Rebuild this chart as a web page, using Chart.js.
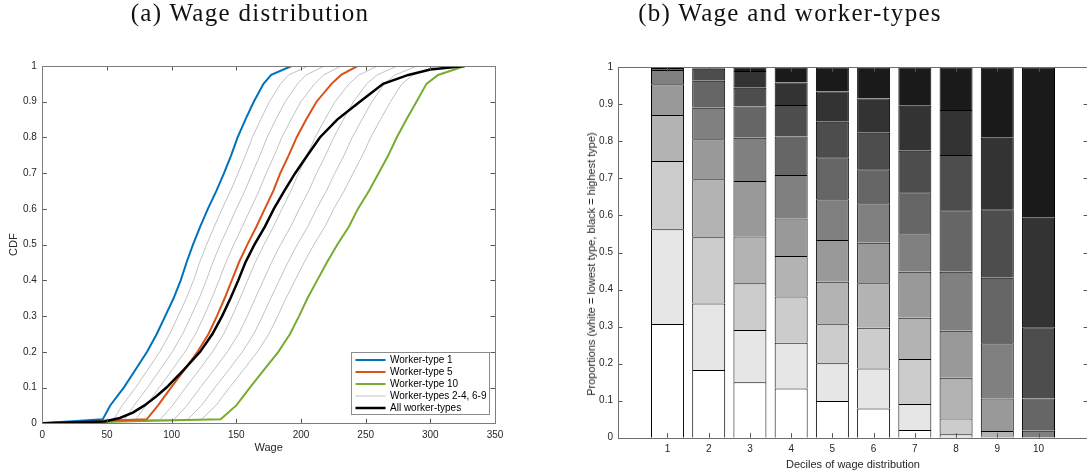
<!DOCTYPE html>
<html>
<head>
<meta charset="utf-8">
<script src="https://cdn.jsdelivr.net/npm/chart.js@4.4.1/dist/chart.umd.min.js"></script>
<style>
  html, body { margin: 0; padding: 0; background: #fff; }
  body { width: 1087px; height: 476px; overflow: hidden; position: relative; font-family: "Liberation Sans", Arial, sans-serif; }
  .title { position: absolute; top: -2px; transform: translateX(-50%); font-family: "Liberation Serif", "Times New Roman", serif; font-size: 25px; letter-spacing: 1.3px; line-height: 30px; color: #111; white-space: nowrap; }
  #cdfWrap { position: absolute; left: 0; top: 0; width: 540px; height: 476px; }
  #barWrap { position: absolute; left: 540px; top: 0; width: 550px; height: 476px; }
  #propLabel { position: absolute; left: 591px; top: 264px; transform: translate(-50%, -50%) rotate(-90deg); font-size: 11px; color: #262626; white-space: nowrap; }
</style>
</head>
<body>
<div id="cdfWrap"><canvas id="cdf" width="540" height="476"></canvas></div>
<div id="barWrap"><canvas id="bars" width="550" height="476"></canvas></div>
<div class="title" style="left:250px">(a) Wage distribution</div>
<div class="title" style="left:790px">(b) Wage and worker-types</div>
<div id="propLabel">Proportions (white = lowest type, black = highest type)</div>
<script>
// ---------------- DATA: panel (a) ----------------
const cdfLevels = [0, 0.011, 0.05, 0.1, 0.15, 0.2, 0.25, 0.3, 0.35, 0.4, 0.45, 0.5, 0.55, 0.6, 0.65, 0.7, 0.75, 0.8, 0.85, 0.9, 0.95, 0.975, 1.0];
const wageType1  = [0, 46.7, 52.5, 63.0, 72.0, 81.0, 88.5, 95.0, 101.5, 107.0, 111.5, 116.5, 122.0, 128.0, 134.5, 140.5, 146.0, 151.0, 157.0, 163.5, 171.0, 177.0, 192.7];
const wageType2  = [0, 55.2, 61.8, 72.1, 81.5, 90.8, 98.5, 105.0, 111.4, 116.9, 121.6, 127.0, 132.9, 139.0, 145.5, 151.4, 157.1, 162.4, 168.8, 175.6, 184.2, 190.5, 205.5];
const wageType3  = [0, 63.7, 71.0, 81.3, 91.0, 100.5, 108.5, 115.0, 121.3, 126.8, 131.8, 137.5, 143.8, 150.0, 156.5, 162.3, 168.3, 173.8, 180.5, 187.8, 197.3, 204.0, 218.2];
const wageType4  = [0, 72.2, 80.3, 90.4, 100.5, 110.3, 118.5, 125.0, 131.1, 136.6, 141.9, 148.0, 154.6, 161.0, 167.5, 173.1, 179.4, 185.2, 192.3, 199.9, 210.5, 217.5, 231.0];
const wageType5  = [0, 80.7, 89.5, 99.5, 110.0, 120.0, 128.5, 135.0, 141.0, 146.5, 152.0, 158.5, 165.5, 172.0, 178.5, 184.0, 190.5, 196.6, 204.0, 212.0, 223.6, 231.0, 243.7];
const wageType6  = [0, 91.3, 100.7, 110.8, 121.4, 131.6, 140.2, 146.8, 152.9, 158.7, 164.6, 171.4, 178.7, 185.3, 192.2, 198.1, 204.8, 210.9, 218.4, 226.3, 237.2, 244.9, 259.1];
const wageType7  = [0, 101.9, 111.9, 122.1, 132.8, 143.1, 151.8, 158.5, 164.7, 170.9, 177.2, 184.2, 192.0, 198.7, 205.9, 212.1, 219.0, 225.3, 232.7, 240.6, 250.8, 258.8, 274.5];
const wageType8  = [0, 112.5, 123.1, 133.4, 144.2, 154.7, 163.5, 170.3, 176.6, 183.2, 189.8, 197.1, 205.2, 212.0, 219.6, 226.2, 233.3, 239.6, 247.1, 254.9, 264.4, 272.7, 289.8];
const wageType9  = [0, 123.1, 134.3, 144.7, 155.6, 166.3, 175.2, 182.0, 188.4, 195.4, 202.4, 210.0, 218.5, 225.3, 233.3, 240.3, 247.5, 253.9, 261.4, 269.2, 278.0, 286.6, 305.2];
const wageType10 = [0, 137.9, 150.0, 160.5, 171.5, 182.5, 191.5, 198.5, 205.0, 212.5, 220.0, 228.0, 237.0, 244.0, 252.5, 260.0, 267.5, 274.0, 281.5, 289.3, 297.0, 306.0, 326.7];
const allLevels = [0, 0.005, 0.015, 0.03, 0.05, 0.075, 0.1, 0.15, 0.2, 0.25, 0.3, 0.35, 0.4, 0.45, 0.5, 0.55, 0.6, 0.65, 0.7, 0.75, 0.8, 0.85, 0.9, 0.95, 0.975, 0.99, 1.0];
const wageAll   = [0, 48, 60, 70, 79, 88, 96, 109.5, 122, 131.5, 139, 145.5, 151.5, 157, 164, 172, 179, 187, 195.5, 205, 214.6, 228, 245.5, 263.5, 283, 300, 326.7];
const legendLabels = ['Worker-type 1', 'Worker-type 5', 'Worker-type 10', 'Worker-types 2-4, 6-9', 'All worker-types'];

// ---------------- DATA: panel (b) ----------------
const deciles = [1, 2, 3, 4, 5, 6, 7, 8, 9, 10];
const shareType1  = [0.307, 0.183, 0.150, 0.133, 0.099, 0.079, 0.021, 0.002, 0, 0];
const shareType2  = [0.256, 0.179, 0.141, 0.1235, 0.102, 0.108, 0.070, 0.007, 0, 0];
const shareType3  = [0.184, 0.179, 0.126, 0.1245, 0.105, 0.110, 0.1215, 0.043, 0.003, 0];
const shareType4  = [0.124, 0.157, 0.126, 0.1095, 0.115, 0.120, 0.1115, 0.110, 0.015, 0];
const shareType5  = [0.083, 0.108, 0.150, 0.1015, 0.113, 0.1095, 0.124, 0.127, 0.088, 0];
const shareType6  = [0.039, 0.085, 0.117, 0.117, 0.110, 0.1065, 0.104, 0.159, 0.149, 0.019];
const shareType7  = [0.005, 0.073, 0.084, 0.104, 0.113, 0.092, 0.1105, 0.166, 0.177, 0.087];
const shareType8  = [0.002, 0.032, 0.051, 0.085, 0.096, 0.098, 0.1125, 0.149, 0.1845, 0.192];
const shareType9  = [0, 0.004, 0.045, 0.061, 0.082, 0.093, 0.121, 0.122, 0.1935, 0.296];
const shareType10 = [0, 0, 0.010, 0.041, 0.065, 0.084, 0.104, 0.115, 0.190, 0.406];

// ---------------- STYLES ----------------
const FONT = '"Liberation Sans", Arial, Helvetica, sans-serif';
const TXT = '#262626';
const greyShades = ['#ffffff', '#e6e6e6', '#cccccc', '#b3b3b3', '#999999', '#808080', '#666666', '#4d4d4d', '#333333', '#1a1a1a'];
const lineBlue = '#0072BD', lineOrange = '#D95319', lineGreen = '#77AC30', lineGrey = '#c2c2c2';
const fmtTick = v => String(Math.round(v * 10) / 10);

// inward tick marks + box
const inwardTicks = {
  id: 'inwardTicks',
  afterDraw(chart, args, o) {
    const ctx = chart.ctx, a = chart.chartArea;
    const xs = chart.scales.x, ys = chart.scales.y;
    const L = o.length;
    ctx.save();
    ctx.lineWidth = 1;
    ctx.strokeStyle = o.color;
    ctx.beginPath();
    xs.ticks.forEach(t => {
      const px = Math.round(xs.getPixelForValue(t.value)) + 0.5;
      ctx.moveTo(px, a.bottom); ctx.lineTo(px, a.bottom - L);
      ctx.moveTo(px, a.top); ctx.lineTo(px, a.top + L);
    });
    ys.ticks.forEach(t => {
      const py = Math.round(ys.getPixelForValue(t.value)) + 0.5;
      ctx.moveTo(a.left, py); ctx.lineTo(a.left + L, py);
      ctx.moveTo(a.right, py); ctx.lineTo(a.right - L, py);
    });
    ctx.stroke();
    ctx.strokeStyle = o.boxColor;
    const l = Math.round(a.left) + 0.5, t = Math.round(a.top) + 0.5;
    ctx.strokeRect(l, t, Math.round(a.right) - Math.round(a.left), Math.round(a.bottom) - Math.round(a.top));
    ctx.restore();
  }
};

// legend box drawn inside plot area
const boxLegend = {
  id: 'boxLegend',
  afterDraw(chart, args, o) {
    if (!o.items) return;
    const ctx = chart.ctx, a = chart.chartArea;
    const right = Math.round(a.right - 6) + 0.5, bottom = Math.round(a.bottom - 9) + 0.5;
    const w = 138, h = 62;
    const left = right - w, top = bottom - h;
    ctx.save();
    ctx.fillStyle = '#fff';
    ctx.fillRect(left, top, w, h);
    ctx.strokeStyle = '#8c8c8c';
    ctx.lineWidth = 1;
    ctx.strokeRect(left, top, w, h);
    ctx.font = '10px ' + FONT;
    ctx.textBaseline = 'middle';
    ctx.textAlign = 'left';
    o.items.forEach((it, i) => {
      const ds = chart.data.datasets[it.dataset];
      const y = top + 7.5 + i * 12;
      ctx.strokeStyle = ds.borderColor;
      ctx.lineWidth = ds.borderWidth;
      ctx.beginPath();
      ctx.moveTo(left + 4, y); ctx.lineTo(left + 34, y);
      ctx.stroke();
      ctx.fillStyle = '#000';
      ctx.fillText(it.label, left + 38.5, y + 0.5);
    });
    ctx.restore();
  }
};

function fixAxis(size, horizontal) {
  return function (scale) {
    if (horizontal) scale.height = size; else scale.width = size;
    scale.paddingLeft = 0; scale.paddingRight = 0; scale.paddingTop = 0; scale.paddingBottom = 0;
  };
}

function pts(wages, levels) { return wages.map((w, i) => ({ x: w, y: levels[i] })); }

const typeWages = [wageType1, wageType2, wageType3, wageType4, wageType5, wageType6, wageType7, wageType8, wageType9, wageType10];
const cdfDatasets = [];
cdfDatasets.push({ label: 'All worker-types', data: pts(wageAll, allLevels), borderColor: '#000', borderWidth: 2.5, order: 0 });
cdfDatasets.push({ label: 'Worker-type 1', data: pts(wageType1, cdfLevels), borderColor: lineBlue, borderWidth: 2, order: 1 });
cdfDatasets.push({ label: 'Worker-type 5', data: pts(wageType5, cdfLevels), borderColor: lineOrange, borderWidth: 2, order: 1 });
cdfDatasets.push({ label: 'Worker-type 10', data: pts(wageType10, cdfLevels), borderColor: lineGreen, borderWidth: 2, order: 1 });
[1, 2, 3, 5, 6, 7, 8].forEach(k => {
  cdfDatasets.push({ label: 'Worker-type ' + (k + 1), data: pts(typeWages[k], cdfLevels), borderColor: lineGrey, borderWidth: 1, order: 2 });
});
cdfDatasets.forEach(d => { d.pointRadius = 0; d.tension = 0; d.fill = false; });

new Chart(document.getElementById('cdf'), {
  type: 'line',
  data: { datasets: cdfDatasets },
  plugins: [inwardTicks, boxLegend],
  options: {
    responsive: false, animation: false, events: [],
    layout: { padding: { top: 66, right: 45, left: 0, bottom: 0 } },
    plugins: {
      legend: { display: false }, tooltip: { enabled: false },
      inwardTicks: { length: 4.5, color: '#555', boxColor: '#7d7d7d' },
      boxLegend: { items: [
        { dataset: 1, label: legendLabels[0] },
        { dataset: 2, label: legendLabels[1] },
        { dataset: 3, label: legendLabels[2] },
        { dataset: 4, label: legendLabels[3] },
        { dataset: 0, label: legendLabels[4] }
      ] }
    },
    scales: {
      x: {
        type: 'linear', min: 0, max: 350, offset: false,
        ticks: { stepSize: 50, padding: 6, color: TXT, font: { family: FONT, size: 10 } },
        grid: { display: false, drawTicks: false }, border: { display: false },
        title: { display: true, text: 'Wage', color: TXT, font: { family: FONT, size: 11 }, padding: { top: 0, bottom: 21 } },
        afterFit: fixAxis(52.7, true)
      },
      y: {
        type: 'linear', min: 0, max: 1,
        ticks: { stepSize: 0.1, padding: 5.5, color: TXT, font: { family: FONT, size: 10 }, callback: fmtTick },
        grid: { display: false, drawTicks: false }, border: { display: false },
        title: { display: true, text: 'CDF', color: TXT, font: { family: FONT, size: 11 }, padding: { top: 7.4, bottom: 0 } },
        afterFit: fixAxis(42.3, false)
      }
    }
  }
});

// ---------------- panel (b) ----------------
const shares = [shareType1, shareType2, shareType3, shareType4, shareType5, shareType6, shareType7, shareType8, shareType9, shareType10];
const barDatasets = shares.map((arr, k) => ({
  label: 'Worker-type ' + (k + 1),
  data: deciles.map((d, i) => ({ x: d, y: arr[i] })),
  backgroundColor: greyShades[k],
  borderColor: '#000',
  borderWidth: { top: 1, left: 1, right: 1, bottom: 0 },
  borderSkipped: false,
  stack: 'types',
  categoryPercentage: 1.0,
  barPercentage: 0.8
}));

new Chart(document.getElementById('bars'), {
  type: 'bar',
  data: { datasets: barDatasets },
  plugins: [inwardTicks],
  options: {
    responsive: false, animation: false, events: [],
    layout: { padding: { top: 67.3, right: 2, left: 0, bottom: 0 } },
    plugins: {
      legend: { display: false }, tooltip: { enabled: false },
      inwardTicks: { length: 4.5, color: '#555', boxColor: '#6e6e6e' }
    },
    scales: {
      x: {
        type: 'linear', min: -0.2, max: 11.2, offset: false,
        afterBuildTicks: s => { s.ticks = deciles.map(v => ({ value: v })); },
        ticks: { padding: 6, color: TXT, font: { family: FONT, size: 10 }, callback: v => String(v) },
        grid: { display: false, drawTicks: false }, border: { display: false },
        title: { display: true, text: 'Deciles of wage distribution', color: TXT, font: { family: FONT, size: 11 }, padding: { top: 0, bottom: 4.4 } },
        afterFit: fixAxis(38.3, true)
      },
      y: {
        type: 'linear', min: 0, max: 1, stacked: true,
        ticks: { stepSize: 0.1, padding: 5, color: TXT, font: { family: FONT, size: 10 }, callback: fmtTick },
        grid: { display: false, drawTicks: false }, border: { display: false },
        afterFit: fixAxis(78, false)
      }
    }
  }
});
</script>
</body>
</html>
